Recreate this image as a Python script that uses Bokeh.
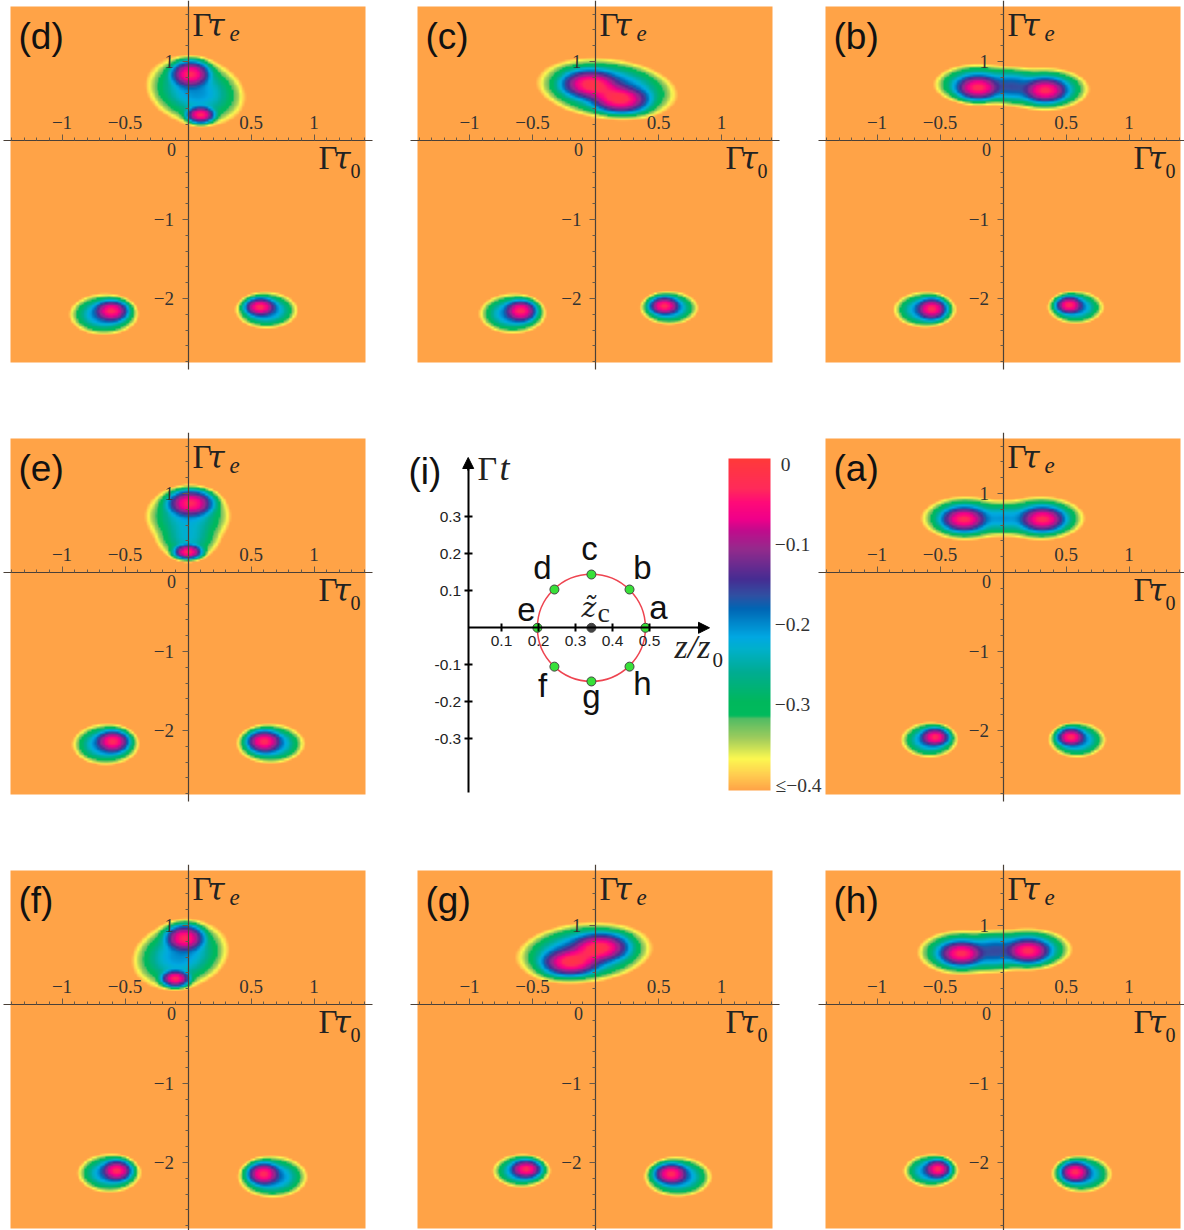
import numpy as np
from bokeh.plotting import figure
from bokeh.layouts import column, row
from bokeh.models import (Range1d, FixedTicker, LinearColorMapper, ColorBar, Arrow, NormalHead)
from bokeh.core.properties import value
from bokeh.embed import file_html
from bokeh.resources import INLINE

# ---------- colour scale (value, colour) ----------
CMAP_VALUES = [-.4063, -.3875, -.3667, -.3417, -.3167, -.313, -.2958, -.2583, -.229, -.2146,
               -.1792, -.1625, -.1417, -.104, -.0813, -.0667, -.0458, -.029, .0088]
CMAP_COLORS = ["#FFA347", "#FFCC50", "#FCF850", "#A0CC5C", "#52BC64", "#00BA5C", "#00B85C", "#00AC92",
               "#00B0CC", "#00A8E2", "#0066B4", "#3050A2", "#462C92", "#952A8C", "#C00C8C", "#F0008A",
               "#FF0A78", "#FF2A5A", "#FF3A3A"]
CBAR_LABELS = ["0", "\u2212" + "0.1", "\u2212" + "0.2", "\u2212" + "0.3", "\u2264\u2212" + "0.4"]

# ---------- lower lobes, per panel: peak x, peak y, outline centre x, y, half-extent x, y ----------
LOWER = {
 "a": [(-.541,-2.09,-.586,-2.127,.214,.211), (.541,-2.09,.591,-2.127,.214,.211)],
 "b": [(-.567,-2.14,-.623,-2.15,.235,.215), (.528,-2.09,.579,-2.12,.211,.196)],
 "c": [(-.595,-2.165,-.66,-2.20,.252,.24), (.548,-2.10,.587,-2.127,.218,.20)],
 "d": [(-.61,-2.165,-.67,-2.21,.26,.247), (.575,-2.115,.627,-2.158,.234,.22)],
 "e": [(-.60,-2.148,-.655,-2.184,.252,.247), (.607,-2.148,.659,-2.175,.256,.238)],
 "f": [(-.567,-2.11,-.627,-2.143,.238,.232), (.602,-2.152,.675,-2.19,.262,.253)],
 "g": [(-.552,-2.09,-.589,-2.114,.217,.20), (.603,-2.152,.657,-2.19,.254,.24)],
 "h": [(-.52,-2.09,-.573,-2.114,.206,.20), (.575,-2.13,.627,-2.153,.226,.222)],
}
# ---------- upper structure, per panel: centre x, y, radius x, y, tilt deg, level ----------
UPPER = {
 "a": [(-.311,.68,.25,.22,0,-.03),(.316,.68,.25,.22,0,-.03),(-.30,.69,.446,.355,0,-.18),(.30,.69,.446,.355,0,-.18),(0,.69,.32,.30,0,-.22)],
 "b": [(-.198,.675,.25,.22,0,-.03),(.337,.64,.25,.22,0,-.03),(-.20,.715,.446,.33,0,-.18),(.337,.655,.446,.345,0,-.18),(.07,.69,.32,.30,0,-.17)],
 "c": [(-.04,.717,.32,.25,0,-.03),(.198,.527,.32,.24,0,-.03),(.09,.62,.42,.26,-20,-.06),(.093,.66,.68,.467,-6,-.16)],
 "d": [(.02,.844,.22,.24,0,-.03),(.10,.33,.16,.15,0,-.03),(.06,.63,.534,.573,-13,-.20)],
 "e": [(.02,.88,.26,.24,0,-.03),(0,.266,.16,.13,0,-.03),(0,.72,.48,.52,0,-.22),(0,.42,.36,.40,0,-.24)],
 "f": [(-.026,.844,.22,.24,0,-.03),(-.10,.333,.16,.15,0,-.03),(-.06,.63,.52,.573,13,-.20)],
 "g": [(.035,.725,.32,.25,0,-.03),(-.198,.544,.32,.24,0,-.03),(-.08,.63,.42,.26,20,-.06),(-.09,.66,.66,.467,5,-.16)],
 "h": [(-.33,.65,.25,.22,0,-.03),(.20,.684,.25,.22,0,-.03),(-.33,.663,.446,.36,0,-.18),(.20,.704,.446,.343,0,-.18),(-.065,.68,.32,.33,0,-.17)],
}
# ---------- panel (i) ----------
POINT_Z = [.489,.446,.343,.243,.197,.243,.343,.446]
POINT_T = [0,.1035,.144,.1035,0,-.105,-.145,-.105]
CENTRE_Z, CENTRE_T = .343, 0
RADIUS_Z, RADIUS_T = .146, .1445
I_X_TICKS = [.1,.2,.3,.4,.5]
I_Y_TICKS = [-.3,-.2,-.1,.1,.2,.3]

XU, YU = 126.0, 79.0      # px per unit of the wigner panels
IU = 370.0
ASPECT = XU / YU
MINUS = "\u2212"
BASE = 0.36   # baseline correction of svg text, in em

grid = np.linspace(CMAP_VALUES[0], CMAP_VALUES[-1], 512)
rgb = np.array([[int(c[i:i+2], 16) for i in (1,3,5)] for c in CMAP_COLORS], float)
pal = ["#%02X%02X%02X" % tuple(int(round(np.interp(v, CMAP_VALUES, rgb[:,k]))) for k in range(3)) for v in grid]
mapper = LinearColorMapper(palette=pal, low=CMAP_VALUES[0], high=CMAP_VALUES[-1])

def field(name, xs, ys):
    T = 0.06
    X, Y = np.meshgrid(xs, ys)
    blobs = list(UPPER[name])
    for px, py, mx, my, ex, ey in LOWER[name]:
        blobs.append((px, py, .95*(ex-abs(px-mx)), .95*(ey-abs(py-my)), 0, -.03))
        blobs.append((mx, my, ex/.74, ey/.74, 0, -.18))
    tot = np.zeros_like(X)
    for cx, cy, rx, ry, tilt, lev in blobs:
        if lev <= -.15:          # the visible rim lies just inside the -0.4 level
            rx, ry = rx*1.07, ry*1.07
        a = np.deg2rad(tilt)
        dx, dy = X-cx, (Y-cy)/ASPECT
        u = (dx*np.cos(a)+dy*np.sin(a))/rx
        v = (-dx*np.sin(a)+dy*np.cos(a))/(ry/ASPECT)
        tot += np.exp((lev-.4*(u*u+v*v))/T)
    return (T*np.log(tot+1e-30)).astype("float32")

SERIF = value("Liberation Serif")
SANS = value("Liberation Sans")
TAU = value("DejaVu Serif")

def put(p, fx, fy, x, y, txt, font=SERIF, size=33, style="normal", color="#222222", align="left"):
    p.text(x=[fx(x)], y=[fy(y-BASE*size)], text=[txt], text_font=font, text_font_size=f"{size}px",
           text_font_style=style, text_color=color, text_align=align, text_baseline="alphabetic")

def panel(name, width, height, ax=187.5, ay=140.0, rect_bottom=362, margin=None):
    x0, x1 = (0-ax)/XU, (width-ax)/XU
    y1, y0 = ay/YU, (ay-height)/YU
    p = figure(width=width, height=height, x_range=Range1d(x0, x1), y_range=Range1d(y0, y1),
               x_axis_location="above", y_axis_location="left", toolbar_location=None,
               output_backend="svg", min_border=0, outline_line_color=None,
               background_fill_color=None, border_fill_color=None)
    if margin is not None:
        p.margin = margin
    p.grid.visible = False
    fx = lambda v: (v-ax)/XU
    fy = lambda v: (ay-v)/YU
    ix0, ix1, iy1, iy0 = fx(10), fx(365), fy(6), fy(rect_bottom)
    xs = np.linspace(ix0, ix1, 220)
    ys = np.linspace(iy0, iy1, 220)
    p.image(image=[field(name, xs, ys)], x=ix0, y=iy0, dw=ix1-ix0, dh=iy1-iy0, color_mapper=mapper)
    xa = p.xaxis[0]; ya = p.yaxis[0]
    xa.fixed_location = 0; ya.fixed_location = 0
    xa.bounds = (fx(3), fx(372)); ya.bounds = (fy(369), fy(0))
    xt = [-1, -.5, .5, 1]
    xm = [round(.1*i, 1) for i in range(-14, 15) if i % 5]
    yt = [-2, -1, 1]
    ym = [round(.2*i, 1) for i in range(-14, 9) if i % 5]
    xa.ticker = FixedTicker(ticks=xt, minor_ticks=xm)
    ya.ticker = FixedTicker(ticks=yt, minor_ticks=ym)
    xa.major_label_overrides = {-1: MINUS+"1", -.5: MINUS+"0.5", .5: "0.5", 1: "1"}
    ya.major_label_overrides = {-2: MINUS+"2", -1: MINUS+"1", 1: "1"}
    for a in (xa, ya):
        a.axis_line_color = "#4A4038"; a.axis_line_width = 1.2
        a.major_tick_line_color = "#6A5A48"; a.minor_tick_line_color = "#6A5A48"
        a.major_tick_in = 0; a.minor_tick_in = 0
        a.major_tick_out = 6; a.minor_tick_out = 3
        a.major_label_text_font = "Liberation Serif"
        a.major_label_text_font_size = "19px"
        a.major_label_text_color = "#333333"
    xa.major_label_standoff = 6
    ya.major_label_standoff = 8
    put(p, fx, fy, 171, 155, "0", size=18, color="#333333", align="center")
    put(p, fx, fy, 18, 49, f"({name})", font=SANS, size=37, color="#111111")
    put(p, fx, fy, 192, 36, "\u0393", size=33)
    put(p, fx, fy, 207, 36, "\u03c4", font=TAU, size=31, style="italic")
    put(p, fx, fy, 229, 41, "e", size=23, style="italic")
    put(p, fx, fy, 318, 169, "\u0393", size=33)
    put(p, fx, fy, 333, 169, "\u03c4", font=TAU, size=31, style="italic")
    put(p, fx, fy, 350, 178, "0", size=20)
    return p

def panel_i(width=418, height=432):
    ox, oy = 464.0 - 407.0, 627.3 - 432.0
    fx = lambda v: (v-407-ox)/IU
    fy = lambda v: (oy-(v-432))/IU
    p = figure(width=width, height=height, x_range=Range1d(fx(407), fx(407+width)),
               y_range=Range1d(fy(432+height), fy(432)), toolbar_location=None, output_backend="svg",
               min_border=0, outline_line_color=None, background_fill_color=None, border_fill_color=None,
               x_axis_location="below", y_axis_location="left")
    p.grid.visible = False
    xa = p.xaxis[0]; ya = p.yaxis[0]
    yx = fx(467.7)
    xa.fixed_location = 0; ya.fixed_location = yx
    xa.bounds = (yx, fx(700)); ya.bounds = (fy(792), fy(466))
    xa.ticker = FixedTicker(ticks=I_X_TICKS); ya.ticker = FixedTicker(ticks=I_Y_TICKS)
    xa.major_label_overrides = {v: f"{v:.1f}" for v in I_X_TICKS}
    ya.major_label_overrides = {v: f"{v:.1f}" for v in I_Y_TICKS}
    for a in (xa, ya):
        a.axis_line_color = "#000000"; a.axis_line_width = 2
        a.major_tick_line_color = "#000000"; a.major_tick_line_width = 2
        a.minor_tick_line_color = None
        a.major_tick_in = 4; a.major_tick_out = 4
        a.major_label_text_font = "Liberation Sans"
        a.major_label_text_font_size = "15.5px"
        a.major_label_text_color = "#222222"
    xa.major_label_standoff = 4; ya.major_label_standoff = 3
    for sx, sy, ex, ey in ((fx(697), 0, fx(709), 0), (yx, fy(470), yx, fy(457))):
        p.add_layout(Arrow(end=NormalHead(size=11, fill_color="black", line_color="black"),
                           x_start=sx, y_start=sy, x_end=ex, y_end=ey, line_color="black", line_width=2))
    p.ellipse(x=[CENTRE_Z], y=[CENTRE_T], width=2*RADIUS_Z, height=2*RADIUS_T, fill_color=None,
              line_color="#EE4450", line_width=1.5)
    p.scatter(x=POINT_Z, y=POINT_T, size=9, fill_color="#38E038", line_color="#444444", line_width=1)
    p.scatter(x=[CENTRE_Z], y=[CENTRE_T], size=9, fill_color="#444444", line_color="#444444")
    LABEL_PX = {"c":(589,560),"d":(542,579),"b":(642,579),"e":(526,621),"a":(658,619),"f":(542,697),"g":(591,708),"h":(642,695)}
    for k, (lx, ly) in LABEL_PX.items():
        put(p, fx, fy, lx, ly, k, font=SANS, size=33, color="#111111", align="center")
    put(p, fx, fy, 408, 484, "(i)", font=SANS, size=37, color="#111111")
    put(p, fx, fy, 477, 480, "\u0393", size=34)
    put(p, fx, fy, 499, 480, "t", size=36, style="italic")
    put(p, fx, fy, 581, 617, "z\u0303", font=TAU, size=28, style="italic")
    put(p, fx, fy, 597, 622, "c", size=28)
    put(p, fx, fy, 674, 658, "z/z", size=34, style="italic")
    put(p, fx, fy, 712, 667, "0", size=21)
    cb = ColorBar(color_mapper=mapper, ticker=FixedTicker(ticks=[]),
                  width=42, height=332, location=(321, 74), padding=0, margin=0,
                  major_tick_line_color=None, minor_tick_line_color=None, bar_line_color=None, border_line_color=None,
                  background_fill_color=None, major_label_text_font_size="0px")
    p.add_layout(cb, "center")
    CB_PX = [(785,471),(792,551),(792,631),(792,711),(798,792)]
    for (lx, ly), s in zip(CB_PX, CBAR_LABELS):
        put(p, fx, fy, lx, ly, s, size=19.5, color="#333333", align="center")
    return p

r1 = row(panel("d", 407, 432), panel("c", 408, 432, ax=188), panel("b", 369, 432), spacing=0)
r2 = row(panel("e", 407, 432), panel_i(), panel("a", 369, 432, margin=(0, 0, 0, -10)), spacing=0)
r3 = row(panel("f", 407, 366, rect_bottom=364), panel("g", 408, 366, ax=188, rect_bottom=364),
         panel("h", 369, 366, rect_bottom=364), spacing=0)
root = column(r1, r2, r3, spacing=0)
open("out.html", "w").write(file_html(root, INLINE))
